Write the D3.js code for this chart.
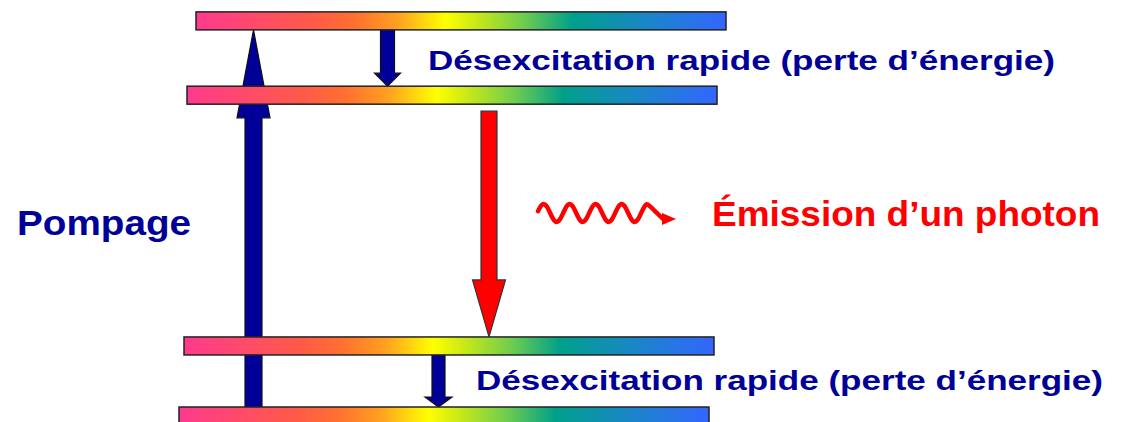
<!DOCTYPE html>
<html><head><meta charset="utf-8">
<script src="https://cdn.jsdelivr.net/npm/d3@7"></script>
<style>html,body{margin:0;padding:0;background:#fff;}svg{display:block;}</style>
</head><body>
<svg id="c" width="1133" height="422"></svg>
<script>
// ---- data ----
const levelNames = ["E0", "E1", "E2", "E3"];
const levelEnergies = [0, 18.1, 82.9, 102.1];
const levelLeft = [179, 184, 187, 196];
const labels = ["Pompage", "Émission d’un photon", "Désexcitation rapide (perte d’énergie)"];
const gradientStops = [
  [0, "#ff3a8e"], [0.22, "#ff5a48"], [0.3, "#ff7030"], [0.38, "#ffa020"],
  [0.47, "#ffff00"], [0.53, "#c8e818"], [0.62, "#6ccc50"], [0.71, "#00a08a"],
  [0.84, "#1888c4"], [1, "#3366ff"]
];

// ---- layout ----
const svg = d3.select("#c");
const yScale = d3.scaleLinear().domain([0, 100]).range([407, 20]);
const barW = 530, barH = 18;
const navy = "#000099";

const defs = svg.append("defs");
const grad = defs.append("linearGradient").attr("id", "rainbow").attr("x1", "0%").attr("x2", "100%");
grad.selectAll("stop").data(gradientStops).join("stop")
  .attr("offset", d => d[0]).attr("stop-color", d => d[1]);

function arrowPath(cx, y0, y1, shaftW, headW, headL) {
  const dir = y1 > y0 ? 1 : -1;
  const hb = y1 - dir * headL;
  return d3.line()([
    [cx - shaftW / 2, y0], [cx - shaftW / 2, hb], [cx - headW / 2, hb],
    [cx, y1], [cx + headW / 2, hb], [cx + shaftW / 2, hb], [cx + shaftW / 2, y0]
  ]) + "Z";
}

const levTop = i => yScale(levelEnergies[i]);
const levBot = i => yScale(levelEnergies[i]) + barH;

const arrows = svg.append("g");
arrows.append("path")
  .attr("d", arrowPath(253.5, levBot(0), levBot(3), 17, 33, 88))
  .attr("fill", navy).attr("stroke", "#111").attr("stroke-width", 1.2);
arrows.append("path")
  .attr("d", arrowPath(387.5, levBot(3) - 1, levTop(2), 14, 26, 13))
  .attr("fill", navy).attr("stroke", "#111").attr("stroke-width", 1.2);
arrows.append("path")
  .attr("d", arrowPath(438.5, levBot(1) - 1, levTop(0), 13, 27, 10))
  .attr("fill", navy).attr("stroke", "#111").attr("stroke-width", 1.2);
arrows.append("path")
  .attr("d", arrowPath(489, levBot(2) + 7, levTop(1), 16, 33, 57))
  .attr("fill", "#ff0000").attr("stroke", "#333").attr("stroke-width", 1.2);

svg.append("g").selectAll("rect").data(levelEnergies).join("rect")
  .attr("x", (d, i) => levelLeft[i])
  .attr("y", d => yScale(d))
  .attr("width", barW).attr("height", barH)
  .attr("fill", "url(#rainbow)")
  .attr("stroke", "#222").attr("stroke-width", 1.5);

// wavy photon
const wavePts = [];
const x0 = 538, x1 = 648, period = 26, amp = 9, yc = 213;
for (let x = x0; x <= x1; x += 1) {
  const t = (x - x0) / period;
  wavePts.push([x, yc - amp * Math.sin(2 * Math.PI * t + 0.2)]);
}
wavePts.push([663, 219]);
svg.append("path").attr("d", d3.line().curve(d3.curveBasis)(wavePts))
  .attr("fill", "none").attr("stroke", "#ff0000").attr("stroke-width", 4.5).attr("stroke-linecap", "round");
svg.append("path").attr("d", "M662,213 L676,219 L662,225 Z").attr("fill", "#ff0000");

const font = "Liberation Sans, Arial, sans-serif";
svg.append("text").text(labels[0]).attr("x", 17).attr("y", 235)
  .attr("font-family", font).attr("font-weight", "bold").attr("font-size", 35)
  .attr("fill", navy).attr("textLength", 174).attr("lengthAdjust", "spacingAndGlyphs");
svg.append("text").text(labels[1]).attr("x", 712).attr("y", 226)
  .attr("font-family", font).attr("font-weight", "bold").attr("font-size", 35)
  .attr("fill", "#ff0000").attr("textLength", 388).attr("lengthAdjust", "spacingAndGlyphs");
svg.append("text").text(labels[2]).attr("x", 428).attr("y", 70)
  .attr("font-family", font).attr("font-weight", "bold").attr("font-size", 28)
  .attr("fill", navy).attr("textLength", 627).attr("lengthAdjust", "spacingAndGlyphs");
svg.append("text").text(labels[2]).attr("x", 476).attr("y", 390)
  .attr("font-family", font).attr("font-weight", "bold").attr("font-size", 28)
  .attr("fill", navy).attr("textLength", 627).attr("lengthAdjust", "spacingAndGlyphs");
</script>
</body></html>
